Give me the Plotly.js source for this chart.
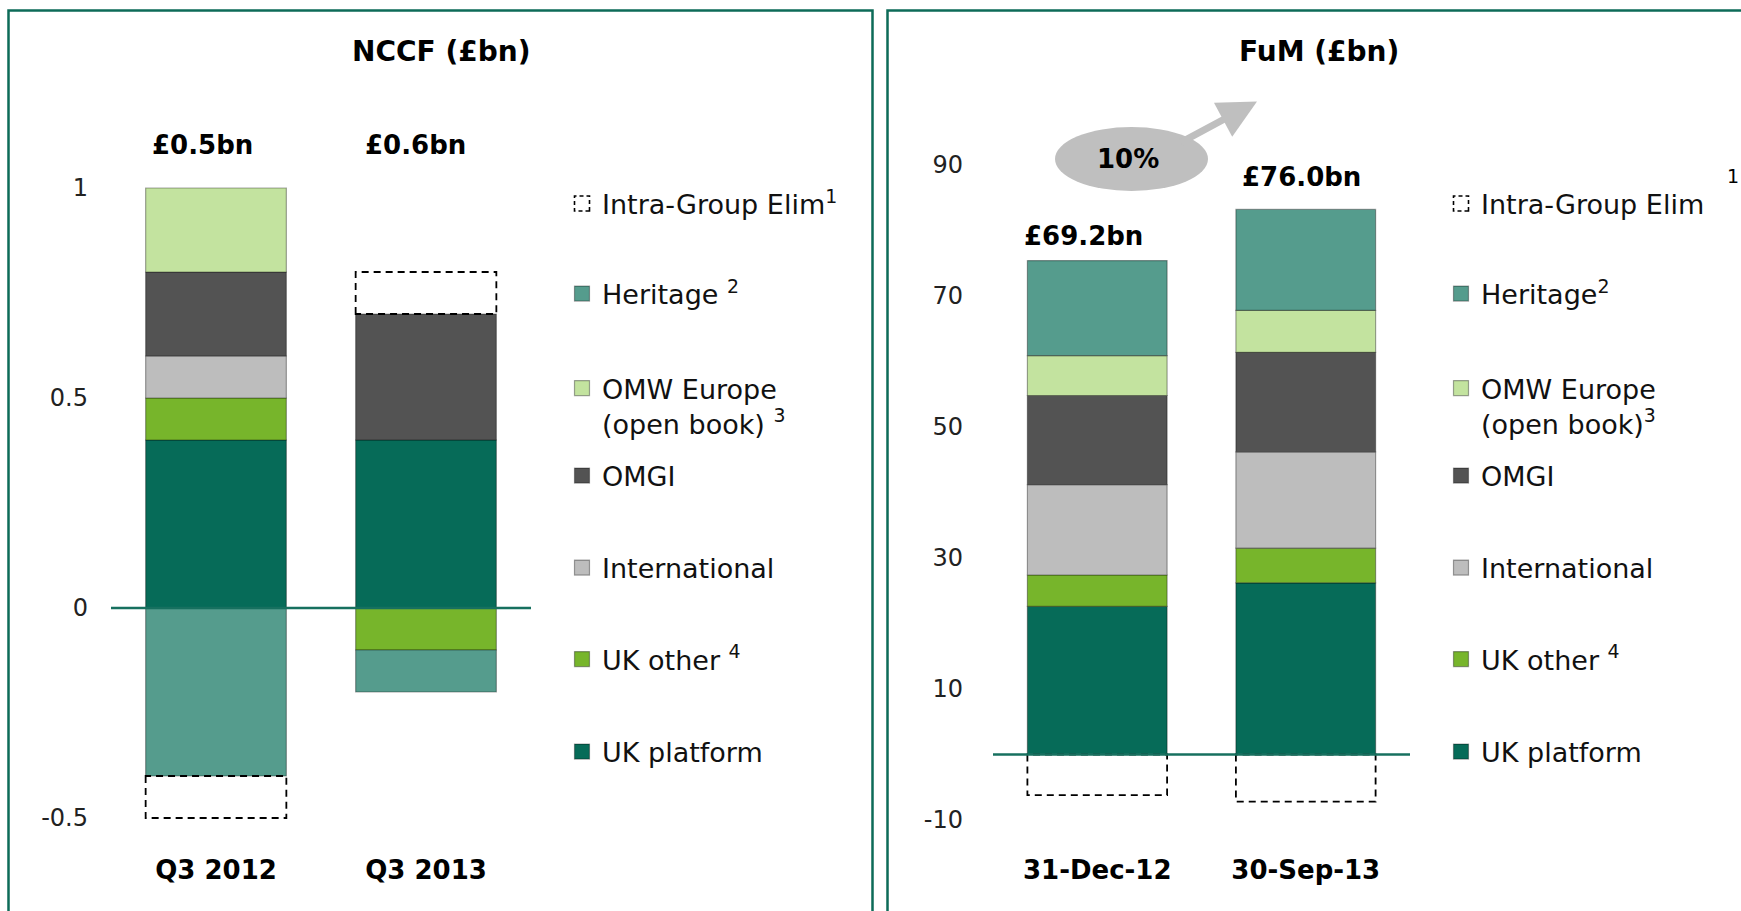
<!DOCTYPE html>
<html><head><meta charset="utf-8">
<script src="https://cdn.plot.ly/plotly-3.0.1.min.js"></script>
<style>html,body{margin:0;padding:0;background:#fff;overflow:hidden;} #chart{width:1741px;height:911px;}</style>
</head><body><div id="chart"></div>
<script>
// ---------------- data ----------------
var nccfPeriods       = ['Q3 2012', 'Q3 2013'];
var nccfUkPlatform    = [0.4, 0.4];
var nccfUkOther       = [0.1, -0.1];
var nccfInternational = [0.1, null];
var nccfOmgi          = [0.2, 0.3];
var nccfOmwEurope     = [0.2, null];
var nccfHeritage      = [-0.4, -0.1];
var nccfIntraGroup    = [-0.1, 0.1];
var nccfTotals        = ['£0.5bn', '£0.6bn'];
var nccfTickVals      = [-0.5, 0, 0.5, 1];
var nccfTickText      = ['-0.5', '0', '0.5', '1'];

var fumDates          = ['31-Dec-12', '30-Sep-13'];
var fumUkPlatform     = [22.6, 26.2];
var fumUkOther        = [4.8, 5.3];
var fumInternational  = [13.8, 14.7];
var fumOmgi           = [13.6, 15.2];
var fumOmwEurope      = [6.1, 6.4];
var fumHeritage       = [14.5, 15.4];
var fumIntraGroup     = [-6.2, -7.2];
var fumTotals         = ['£69.2bn', '£76.0bn'];
var fumTickVals       = [-10, 10, 30, 50, 70, 90];
var fumTickText       = ['-10', '10', '30', '50', '70', '90'];
var fumGrowth         = '10%';

var nccfNames = ['UK platform', 'UK other <sup>4</sup>', 'International', 'OMGI',
                 'OMW Europe<br>(open book) <sup>3</sup>', 'Heritage <sup>2</sup>', 'Intra-Group Elim<sup>1</sup>'];
var fumNames  = ['UK platform', 'UK other <sup>4</sup>', 'International', 'OMGI',
                 'OMW Europe<br>(open book)<sup>3</sup>', 'Heritage<sup>2</sup>', 'Intra-Group Elim'];
var panelTitles = ['NCCF (£bn)', 'FuM (£bn)'];

// ---------------- styling ----------------
var W = 1741, H = 911;
function px(x) { return x / W; }
function py(y) { return 1 - y / H; }
var FONT = 'DejaVu Sans';
var segColors = ['#066B58', '#77B52B', '#BDBDBD', '#535353', '#C3E39F', '#559C8D', 'rgba(255,255,255,0)'];
var legendY = [752, 659.5, 568, 476, 406, 294, 204];   // pixel rows of legend entries

function buildTraces(cats, series, names, xa, ya, legendBase) {
  var out = [];
  for (var i = 0; i < series.length; i++) {
    var dashed = (i === series.length - 1);
    var lk = (legendBase + i === 1) ? 'legend' : 'legend' + (legendBase + i);
    out.push({
      type: 'bar', x: cats, y: series[i], name: names[i], xaxis: xa, yaxis: ya,
      legend: lk, meta: dashed ? 'dashed' : 'solid',
      marker: { color: segColors[i],
                line: dashed ? { color: '#000', width: 1.8 } : { color: 'rgba(0,0,0,0.35)', width: 1.2 } },
      hoverinfo: 'skip'
    });
  }
  return out;
}

var data = []
  .concat(buildTraces(nccfPeriods,
      [nccfUkPlatform, nccfUkOther, nccfInternational, nccfOmgi, nccfOmwEurope, nccfHeritage, nccfIntraGroup],
      nccfNames, 'x', 'y', 1))
  .concat(buildTraces(fumDates,
      [fumUkPlatform, fumUkOther, fumInternational, fumOmgi, fumOmwEurope, fumHeritage, fumIntraGroup],
      fumNames, 'x2', 'y2', 8));

function legendBox(xPx, yPx) {
  return { x: px(xPx), y: py(yPx), xanchor: 'left', yanchor: 'middle', valign: 'top',
           bgcolor: 'rgba(0,0,0,0)', borderwidth: 0,
           font: { family: FONT, size: 27, color: '#111' } };
}

var axisX = { type: 'category', range: [-0.5, 1.5], showline: false, showgrid: false, zeroline: false,
              ticks: '', tickfont: { family: FONT, size: 26, weight: 'bold', color: '#000' },
              ticklabelstandoff: 13, fixedrange: true };
var axisY = { showline: false, showgrid: false, zeroline: false, ticks: '', tickmode: 'array',
              tickfont: { family: FONT, size: 24, color: '#222' }, fixedrange: true };

function note(xref, x, yPx, txt, size, bold, xshift) {
  return { xref: xref, yref: 'paper', x: x, y: py(yPx), xanchor: 'center', yanchor: 'middle',
           xshift: xshift || 0, text: txt, showarrow: false,
           font: { family: FONT, size: size, weight: bold ? 'bold' : 'normal', color: '#000' } };
}

var layout = {
  width: W, height: H, margin: { l: 0, r: 0, t: 0, b: 0 },
  paper_bgcolor: '#fff', plot_bgcolor: 'rgba(0,0,0,0)',
  barmode: 'relative', bargap: 0.33, showlegend: true,
  font: { family: FONT, color: '#111' },
  xaxis: Object.assign({}, axisX, { domain: [px(111), px(531)], anchor: 'y' }),
  yaxis: Object.assign({}, axisY, { domain: [py(839), py(104)], range: [-0.55, 1.2], anchor: 'x',
                                    tickvals: nccfTickVals, ticktext: nccfTickText, ticklabelstandoff: 22 }),
  xaxis2: Object.assign({}, axisX, { domain: [px(993), px(1410)], anchor: 'y2' }),
  yaxis2: Object.assign({}, axisY, { domain: [py(839), py(104)], range: [-12.9, 99.3], anchor: 'x2',
                                     tickvals: fumTickVals, ticktext: fumTickText, ticklabelstandoff: 29 }),
  shapes: [
    { type: 'rect', xref: 'paper', yref: 'paper', x0: px(8.5), x1: px(872.5), y0: py(10.5), y1: py(940),
      line: { color: '#0D6B58', width: 2.5 }, fillcolor: 'rgba(0,0,0,0)', layer: 'below' },
    { type: 'rect', xref: 'paper', yref: 'paper', x0: px(887.5), x1: px(1780), y0: py(10.5), y1: py(940),
      line: { color: '#0D6B58', width: 2.5 }, fillcolor: 'rgba(0,0,0,0)', layer: 'below' },
    { type: 'line', xref: 'x domain', yref: 'y', x0: 0, x1: 1, y0: 0, y1: 0,
      line: { color: '#17705F', width: 2.5 }, layer: 'above' },
    { type: 'line', xref: 'x2 domain', yref: 'y2', x0: 0, x1: 1, y0: 0, y1: 0,
      line: { color: '#17705F', width: 2.5 }, layer: 'above' },
    { type: 'circle', xref: 'paper', yref: 'paper', x0: px(1055), x1: px(1208), y0: py(191), y1: py(127),
      fillcolor: '#BFBFBF', line: { width: 0 }, layer: 'above' }
  ],
  annotations: [
    note('paper', px(441), 52, panelTitles[0], 28, true),
    note('paper', px(1319), 52, panelTitles[1], 28, true),
    note('x', nccfPeriods[0], 145, nccfTotals[0], 26, true, -14),
    note('x', nccfPeriods[1], 145, nccfTotals[1], 26, true, -11),
    note('x2', fumDates[0], 236, fumTotals[0], 26, true, -14),
    note('x2', fumDates[1], 177, fumTotals[1], 26, true, -4),
    { xref: 'paper', yref: 'paper', x: px(1257), y: py(101.5), ax: -80, ay: 43, text: ' ', showarrow: true,
      arrowhead: 2, arrowsize: 1.1, arrowwidth: 7, arrowcolor: '#BFBFBF', standoff: 0, startstandoff: 0 },
    note('paper', px(1128), 159, fumGrowth, 26, true),
    note('paper', px(1733), 176, '1', 19, false)
  ]
};

// one legend box per entry so that each row sits where the reference puts it
for (var k = 0; k < 7; k++) {
  layout[k === 0 ? 'legend' : 'legend' + (k + 1)] = legendBox(562, legendY[k]);
  layout['legend' + (k + 8)] = legendBox(1441, legendY[k]);
}

function traceOf(el) {
  var d = el.__data__;
  while (Array.isArray(d)) { d = d[0]; }
  return d && d.trace;
}
function dashUp() {
  gd.querySelectorAll('.barlayer .trace').forEach(function (g) {
    var tr = traceOf(g);
    if (tr && tr.meta === 'dashed') {
      g.querySelectorAll('path').forEach(function (p) { p.style.strokeDasharray = '7,5'; });
    }
  });
  gd.querySelectorAll('.infolayer g.traces').forEach(function (g) {
    var tr = traceOf(g);
    g.querySelectorAll('path').forEach(function (p) {
      p.setAttribute('d', 'M7.5,7.5H-7.5V-7.5H7.5Z');
      if (tr && tr.meta === 'dashed') { p.style.strokeDasharray = '4,3'; p.style.strokeWidth = '1.6px'; }
    });
  });
}

var gd = document.getElementById('chart');
Plotly.newPlot(gd, data, layout, { staticPlot: true, displayModeBar: false }).then(function () {
  dashUp();
  setTimeout(dashUp, 50);
  setTimeout(dashUp, 300);
});
</script>
</body></html>
